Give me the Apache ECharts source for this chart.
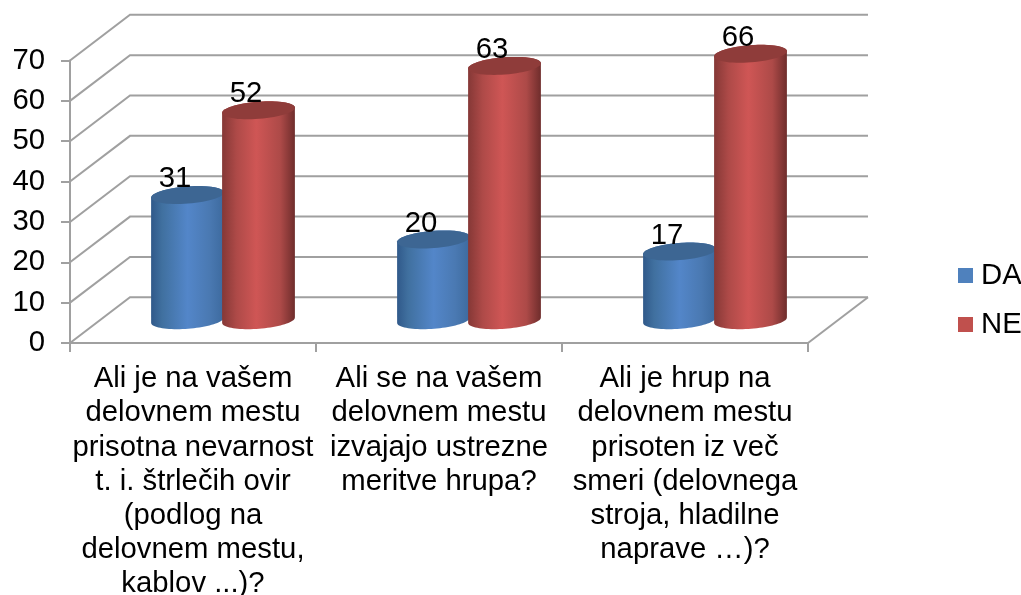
<!DOCTYPE html>
<html>
<head>
<meta charset="utf-8">
<style>html,body{margin:0;padding:0;background:#fff}#c{width:1021px;height:595px}</style>
<script src="https://cdn.jsdelivr.net/npm/echarts@6/dist/echarts.min.js"></script>
</head>
<body>
<div id="c"></div>
<script>
const categories = [
  'Ali je na vašem\ndelovnem mestu\nprisotna nevarnost\nt. i. štrlečih ovir\n(podlog na\ndelovnem mestu,\nkablov ...)?',
  'Ali se na vašem\ndelovnem mestu\nizvajajo ustrezne\nmeritve hrupa?',
  'Ali je hrup na\ndelovnem mestu\nprisoten iz več\nsmeri (delovnega\nstroja, hladilne\nnaprave …)?'
];
const seriesNames = ['DA', 'NE'];
const daValues = [31, 20, 17];
const neValues = [52, 63, 66];
const wallTicks = [0, 10, 20, 30, 40, 50, 60, 70];

const FONT = 'Liberation Sans, Arial, sans-serif';
const FS = 29.3;
const DEPTH_X = 60, DEPTH_Y = -45.7;
const GRID = '#a0a0a0';

const chart = echarts.init(document.getElementById('c'), null, {renderer: 'canvas'});

function ell(cx, cy, t0, t1, a, b, n) {
  const phi = -4.4 * Math.PI / 180, pts = [];
  for (let i = 0; i <= n; i++) {
    const t = t0 + (t1 - t0) * i / n;
    pts.push([
      cx + a * Math.cos(t) * Math.cos(phi) - b * Math.sin(t) * Math.sin(phi),
      cy + a * Math.cos(t) * Math.sin(phi) + b * Math.sin(t) * Math.cos(phi)
    ]);
  }
  return pts;
}

function cylinder(sign, stops, cap) {
  return function (params, api) {
    const cat = api.value(0), val = api.value(1);
    const band = api.size([1, 0])[0];
    const base = api.coord([cat, 0]), top = api.coord([cat, val]);
    const cx = base[0] + sign * band * 0.1443 + DEPTH_X / 2;
    const by = base[1] + DEPTH_Y / 2, ty = top[1] + DEPTH_Y / 2;
    const a = band * 0.1484, b = 8.6;
    const body = ell(cx, by, 0, Math.PI, a, b, 40).concat(ell(cx, ty, Math.PI, 2 * Math.PI, a, b, 40));
    const grad = new echarts.graphic.LinearGradient(0, 0, 1, 0, stops);
    return {
      type: 'group',
      children: [
        {type: 'polygon', shape: {points: body}, style: {fill: grad}},
        {type: 'polygon', shape: {points: ell(cx, ty, 0, 2 * Math.PI, a, b, 60)}, style: {fill: cap}},
        {type: 'text', z2: 50, style: {
          text: String(val), x: cx - 12.5, y: ty - 16, align: 'center', verticalAlign: 'middle',
          font: FS + 'px ' + FONT, fill: '#000'
        }}
      ]
    };
  };
}

function wallLine(params, api) {
  const v = api.value(1);
  const left = api.coord([0, v]);
  const cs = params.coordSys;
  const x0 = cs.x, x1 = cs.x + cs.width, y = left[1];
  const style = {stroke: GRID, lineWidth: 2, fill: null};
  const kids = [{type: 'polyline', shape: {points: [[x0, y], [x0 + DEPTH_X, y + DEPTH_Y], [x1 + DEPTH_X, y + DEPTH_Y]]}, style}];
  if (v === 0) kids.push({type: 'line', shape: {x1: x1, y1: y, x2: x1 + DEPTH_X, y2: y + DEPTH_Y}, style});
  return {type: 'group', children: kids};
}

chart.setOption({
  animation: false,
  backgroundColor: '#fff',
  textStyle: {fontFamily: FONT},
  grid: {left: 70, right: 213, top: 60.5, height: 282.5, containLabel: false, outerBoundsMode: 'none'},
  legend: {
    orient: 'vertical', left: 958, top: 261, padding: 0, itemWidth: 15, itemHeight: 15, itemGap: 20,
    data: seriesNames.map(n => ({name: n, icon: 'rect'})),
    textStyle: {fontSize: FS, color: '#000', fontFamily: FONT, padding: [2, 0, 0, 3]}
  },
  xAxis: {
    type: 'category', data: categories,
    axisLine: {show: true, lineStyle: {color: GRID, width: 2}},
    axisTick: {show: true, length: 9, alignWithLabel: false, lineStyle: {color: GRID, width: 2}},
    axisLabel: {interval: 0, fontSize: FS, color: '#000', fontFamily: FONT, lineHeight: 34.2, margin: 19, align: 'center'},
    splitLine: {show: false}
  },
  yAxis: {
    type: 'value', min: 0, max: 70, interval: 10,
    axisLine: {show: true, lineStyle: {color: GRID, width: 2}},
    axisTick: {show: true, length: 9, lineStyle: {color: GRID, width: 2}},
    axisLabel: {fontSize: FS, color: '#000', fontFamily: FONT, margin: 25, padding: [4, 0, 0, 0]},
    splitLine: {show: false}
  },
  series: [
    {type: 'custom', name: 'walls', silent: true, clip: false, z: 1, renderItem: wallLine,
     encode: {x: 0, y: 1}, data: wallTicks.map(v => [0, v])},
    {type: 'custom', name: seriesNames[0], clip: false, z: 2, itemStyle: {color: '#4f81bd'},
     renderItem: cylinder(-1, [
       {offset: 0, color: '#30598a'}, {offset: 0.15, color: '#40709f'}, {offset: 0.5, color: '#5386c9'},
       {offset: 0.8, color: '#4a79b2'}, {offset: 1, color: '#3d6a9e'}], '#3d6693'),
     encode: {x: 0, y: 1}, data: daValues.map((v, i) => [i, v])},
    {type: 'custom', name: seriesNames[1], clip: false, z: 3, itemStyle: {color: '#c0504d'},
     renderItem: cylinder(1, [
       {offset: 0, color: '#853836'}, {offset: 0.2, color: '#ae4a48'}, {offset: 0.47, color: '#cf5655'},
       {offset: 0.8, color: '#ad4a48'}, {offset: 1, color: '#6f2d2c'}], '#8f3c3a'),
     encode: {x: 0, y: 1}, data: neValues.map((v, i) => [i, v])}
  ]
});
</script>
</body>
</html>
